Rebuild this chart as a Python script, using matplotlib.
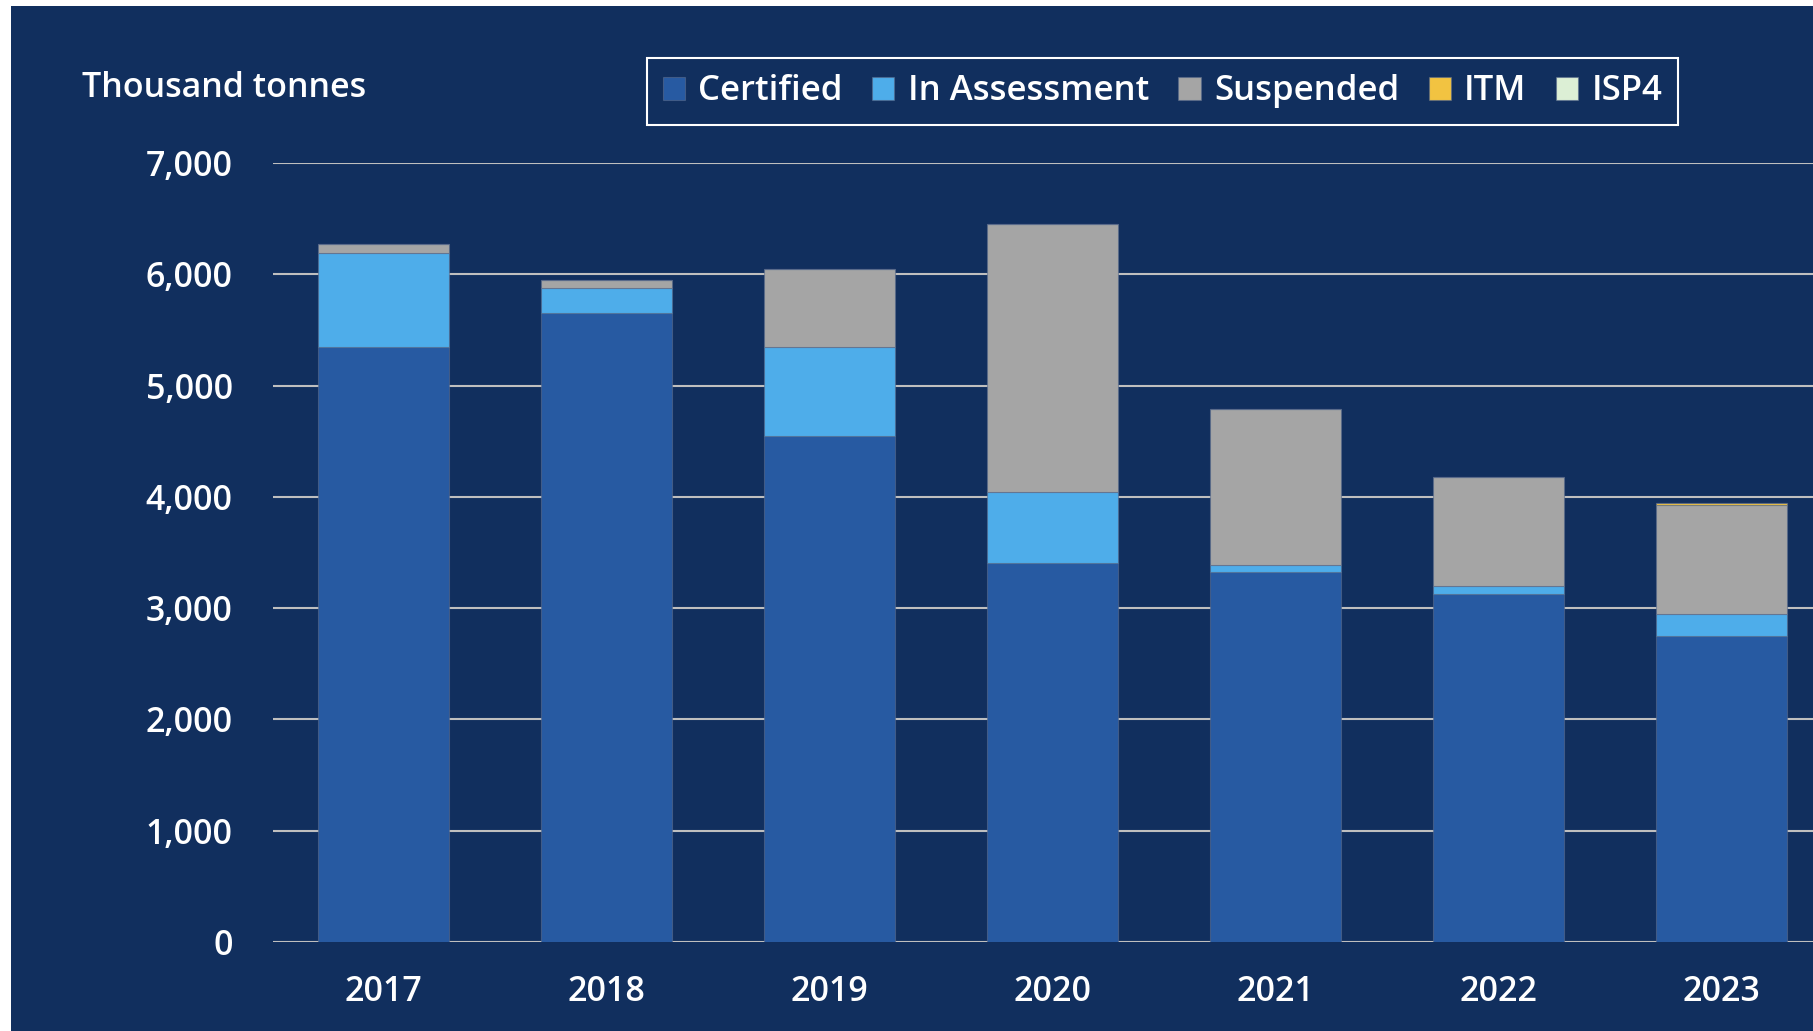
import numpy as np
import matplotlib
matplotlib.use("Agg")
import matplotlib.pyplot as plt
from matplotlib.patches import Rectangle

plt.rcParams['font.family'] = ['Open Sans', 'DejaVu Sans']
plt.rcParams['font.weight'] = 'semibold'

years = ["2017", "2018", "2019", "2020", "2021", "2022", "2023"]
certified = [5345, 5650, 4550, 3408, 3322, 3130, 2752]
in_assessment = [845, 225, 795, 640, 66, 69, 193]
suspended = [85, 72, 703, 2402, 1398, 982, 985]
itm = [0, 0, 0, 0, 0, 0, 12]
isp4 = [0, 0, 0, 0, 0, 0, 0]

names = ["Certified", "In Assessment", "Suspended", "ITM", "ISP4"]
colors = ["#275AA2", "#4EADEA", "#A5A5A5", "#F2C341", "#DCEFD5"]
bg = "#112F5E"

W, H = 1813, 1031
fig = plt.figure(figsize=(W / 100, H / 100), dpi=100, facecolor="white")
fig.patches.append(Rectangle((11 / W, 0), 1, 1 - 6 / H, transform=fig.transFigure,
                             facecolor=bg, edgecolor="none", zorder=-10))

ax = fig.add_axes([273 / W, 1 - 942 / H, 1 - 273 / W, (942 - 163) / H])
ax.set_facecolor(bg)
ax.patch.set_alpha(0)

x = np.arange(len(years))
width = 0.583
bottom = np.zeros(len(years))
series = [certified, in_assessment, suspended, itm, isp4]
for name, vals, col in zip(names, series, colors):
    vals = np.array(vals, dtype=float)
    ax.bar(x, vals, width, bottom=bottom, color=col, label=name,
           edgecolor=(0.35, 0.42, 0.55, 0.6), linewidth=0.8, zorder=3)
    bottom += vals

ax.set_xlim((273 - 383.5) / 223, (1813 - 383.5) / 223)
ax.set_ylim(0, 7000)
ax.set_yticks(np.arange(0, 7001, 1000))
ax.set_yticklabels([f"{v:,}" for v in range(0, 7001, 1000)])
ax.set_xticks(x)
ax.set_xticklabels(years)
ax.grid(axis="y", color="#BFBFBF", linewidth=1.5, zorder=0)
ax.set_axisbelow(True)
for s in ax.spines.values():
    s.set_visible(False)
ax.tick_params(axis="y", length=0, pad=29, labelsize=24.5, labelcolor="white")
ax.tick_params(axis="x", length=0, pad=24, labelsize=24.5, labelcolor="white")

fig.text(82 / W, 1 - 97 / H, "Thousand tonnes", color="white", fontsize=24.5,
         ha="left", va="baseline")

# legend box
fig.patches.append(Rectangle((647 / W, 1 - 125 / H), (1678 - 647) / W, 67 / H,
                             transform=fig.transFigure, facecolor="none",
                             edgecolor="white", linewidth=1.5, zorder=5))
leg = fig.legend(loc="center", bbox_to_anchor=((647 + 1678) / 2 / W, 1 - 91.5 / H),
                 ncol=5, frameon=False, fontsize=25, labelcolor="white",
                 handlelength=0.64, handleheight=0.64, handletextpad=0.38,
                 columnspacing=0.85)

fig.savefig("out.png", dpi=100, facecolor=fig.get_facecolor())
